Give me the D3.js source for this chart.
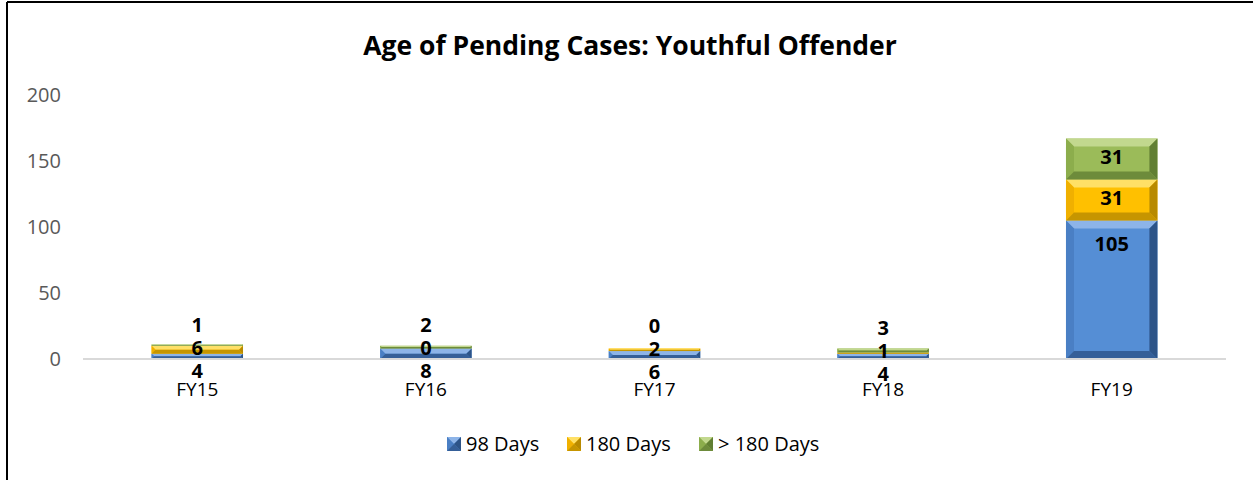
<!DOCTYPE html>
<html>
<head>
<meta charset="utf-8">
<script src="https://cdn.jsdelivr.net/npm/d3@7"></script>
<style>
  body { margin: 0; background: #fff; }
  svg text { font-family: "Open Sans", "Liberation Sans", sans-serif; }
</style>
</head>
<body>
<svg id="chart" width="1253" height="480"></svg>
<script>
// chart data
const years = ["FY15", "FY16", "FY17", "FY18", "FY19"];
const seriesNames = ["98 Days", "180 Days", "> 180 Days"];
const days98 = [4, 8, 6, 4, 105];
const days180 = [6, 0, 2, 1, 31];
const daysOver180 = [1, 2, 0, 3, 31];
const yTicks = [0, 50, 100, 150, 200];

const colors = [
  {base: "#558ed5", light: "#8db4e8", side: "#4a7fc4", dark: "#2d5488"},
  {base: "#ffc000", light: "#ffe066", side: "#f0b000", dark: "#b88a00"},
  {base: "#9bbb59", light: "#c2d88e", side: "#8cad4c", dark: "#617f33"}
];

const svg = d3.select("#chart");
const margin = {top: 95, right: 27, bottom: 121, left: 83};
const W = 1253, H = 480;
const width = W - margin.left - margin.right,
      height = H - margin.top - margin.bottom;

// frame lines
svg.append("line").attr("x1", 7).attr("x2", W).attr("y1", 2).attr("y2", 2)
   .attr("stroke", "#000").attr("stroke-width", 2);
svg.append("line").attr("x1", 7).attr("x2", 7).attr("y1", 2).attr("y2", H)
   .attr("stroke", "#000").attr("stroke-width", 2);

const x = d3.scaleBand().domain(years).range([0, width]).paddingInner(0.6).paddingOuter(0.3);
const y = d3.scaleLinear().domain([0, 200]).range([height, 0]);

const g = svg.append("g").attr("transform", `translate(${margin.left},${margin.top})`);

// title
svg.append("text")
   .attr("x", 630).attr("y", 55)
   .attr("text-anchor", "middle")
   .style("font-size", "26.5px").style("font-weight", "bold").attr("fill", "#000")
   .text("Age of Pending Cases: Youthful Offender");

// y axis labels (no line)
const yAxis = g.append("g")
   .call(d3.axisLeft(y).tickValues(yTicks).tickSize(0).tickPadding(22));
yAxis.select(".domain").remove();
yAxis.selectAll("text").style("font-size", "20px").attr("fill", "#595959");

// stacked data
const table = years.map((yr, i) => ({year: yr, s0: days98[i], s1: days180[i], s2: daysOver180[i]}));
const stack = d3.stack().keys(["s0", "s1", "s2"])(table);

// bevelled segment
function bevel(sel, x0, y0, w, h, c) {
  const b = Math.min(8, h / 2, w / 2);
  sel.append("rect").attr("x", x0).attr("y", y0).attr("width", w).attr("height", h).attr("fill", c.base);
  if (h <= 0) return;
  const pts = a => a.map(p => p.join(",")).join(" ");
  sel.append("polygon").attr("fill", c.light)
     .attr("points", pts([[x0, y0], [x0 + w, y0], [x0 + w - b, y0 + b], [x0 + b, y0 + b]]));
  sel.append("polygon").attr("fill", c.side)
     .attr("points", pts([[x0, y0], [x0 + b, y0 + b], [x0 + b, y0 + h - b], [x0, y0 + h]]));
  sel.append("polygon").attr("fill", c.dark)
     .attr("points", pts([[x0 + w, y0], [x0 + w, y0 + h], [x0 + w - b, y0 + h - b], [x0 + w - b, y0 + b]]));
  sel.append("polygon").attr("fill", c.dark).attr("opacity", 0.8)
     .attr("points", pts([[x0, y0 + h], [x0 + w, y0 + h], [x0 + w - b, y0 + h - b], [x0 + b, y0 + h - b]]));
}

stack.forEach((layer, si) => {
  layer.forEach(d => {
    const x0 = x(d.data.year), y0 = y(d[1]), h = y(d[0]) - y(d[1]);
    bevel(g.append("g"), x0, y0, x.bandwidth(), h, colors[si]);
  });
});

// baseline
g.append("line").attr("x1", 0).attr("x2", width).attr("y1", y(0)).attr("y2", y(0))
   .attr("stroke", "#d9d9d9").attr("stroke-width", 2);

// x labels
const xAxis = g.append("g").attr("transform", `translate(0,${height})`)
   .call(d3.axisBottom(x).tickSize(0).tickPadding(24));
xAxis.select(".domain").remove();
xAxis.selectAll("text").style("font-size", "19px").attr("fill", "#000");

// data labels, pushed apart when they overlap
years.forEach((yr, i) => {
  const labs = stack.map(layer => {
    const d = layer[i];
    const top = y(d[1]), h = y(d[0]) - y(d[1]);
    return {v: d[1] - d[0], y: top + Math.min(h / 2, 26)};
  });
  const gap = 23;
  for (let k = 0; k < 50; k++) {
    for (let j = 1; j < labs.length; j++) {
      const diff = labs[j - 1].y - labs[j].y;
      if (diff < gap) {
        const push = (gap - diff) / 2;
        labs[j - 1].y += push;
        labs[j].y -= push;
      }
    }
  }
  labs.forEach(l => {
    g.append("text")
     .attr("x", x(yr) + x.bandwidth() / 2).attr("y", l.y - 2)
     .attr("dy", "0.35em").attr("text-anchor", "middle")
     .style("font-size", "20px").style("font-weight", "bold").attr("fill", "#000")
     .text(l.v);
  });
});

// legend
const legendX = [447, 567, 699];
const leg = svg.append("g").attr("transform", "translate(0,444)");
seriesNames.forEach((name, i) => {
  const item = leg.append("g").attr("transform", `translate(${legendX[i]},0)`);
  bevel(item, 0, -7, 14, 14, colors[i]);
  item.append("text").attr("x", 19).attr("y", 0).attr("dy", "0.35em")
      .style("font-size", "20px").attr("fill", "#000").text(name);
});
</script>
</body>
</html>
